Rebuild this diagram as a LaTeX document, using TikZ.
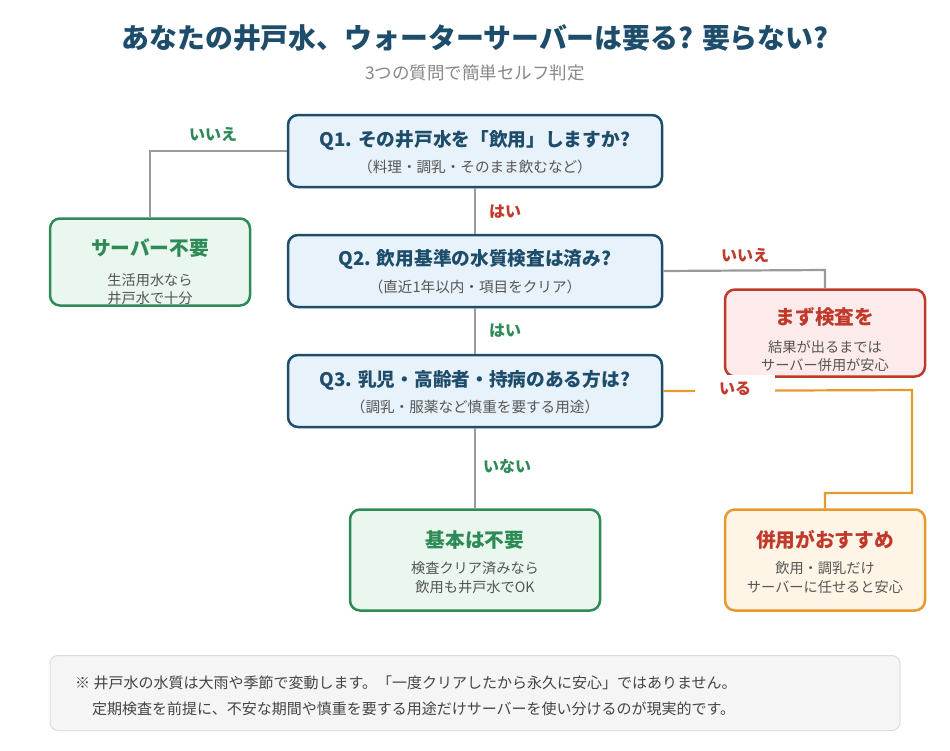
\documentclass[tikz,border=0pt]{standalone}
\usepackage{fontspec}
\setmainfont{Noto Sans CJK JP}
\definecolor{tblue}{HTML}{1E4D6B}
\definecolor{qfill}{HTML}{E8F2FA}
\definecolor{subgrey}{HTML}{555555}
\definecolor{lgrey}{HTML}{888888}
\definecolor{cgreen}{HTML}{2E8B57}
\definecolor{gfill}{HTML}{EAF7EE}
\definecolor{cred}{HTML}{C0392B}
\definecolor{rfill}{HTML}{FDEAEA}
\definecolor{corange}{HTML}{E69A2E}
\definecolor{ofill}{HTML}{FEF5E7}
\definecolor{conn}{HTML}{9A9A9A}
\definecolor{notefill}{HTML}{F5F5F5}
\definecolor{noteline}{HTML}{DDDDDD}
\definecolor{notetext}{HTML}{444444}
\tikzset{
  qbox/.style={draw=tblue, fill=qfill, line width=2.5pt, rounded corners=10pt,
    minimum width=374pt, minimum height=72pt, inner sep=0pt},
  obox/.style={line width=2.5pt, rounded corners=10pt,
    minimum width=200pt, minimum height=87pt, inner sep=0pt},
  qt/.style={font=\bfseries\fontsize{18.7}{22}\selectfont, text=tblue, inner sep=0pt},
  qs/.style={font=\fontsize{14.6}{17}\selectfont, text=subgrey, inner sep=0pt},
  ot/.style={font=\bfseries\fontsize{19.7}{23}\selectfont, inner sep=0pt},
  ob/.style={font=\fontsize{14.2}{17}\selectfont, text=subgrey, inner sep=0pt},
  conline/.style={draw=conn, line width=2.2pt},
  lbl/.style={font=\bfseries\fontsize{16}{19}\selectfont, inner sep=1pt},
  nt/.style={anchor=west, font=\fontsize{15}{18}\selectfont, text=notetext, inner sep=0pt},
}
\begin{document}
\begin{tikzpicture}[x=1pt,y=-1pt]
\useasboundingbox (0,0) rectangle (950,750);
\fill[white] (0,0) rectangle (950,750);
% title
\node[font=\bfseries\fontsize{27.9}{33}\selectfont, text=tblue] (title) at (475,38) {あなたの井戸水、ウォーターサーバーは要る? 要らない?};
\node[font=\fontsize{17.5}{20}\selectfont, text=lgrey] (subtitle) at (475,73) {3つの質問で簡単セルフ判定};
% question boxes
\node[qbox] (q1) at (475,151) {};
\node[qt] (q1t) at (475,140) {Q1. その井戸水を「飲用」しますか?};
\node[qs] (q1s) at (475,167) {（料理・調乳・そのまま飲むなど）};
\node[qbox] (q2) at (475,271) {};
\node[qt] (q2t) at (475,259) {Q2. 飲用基準の水質検査は済み?};
\node[qs] (q2s) at (475,287) {（直近1年以内・項目をクリア）};
\node[qbox] (q3) at (475,391) {};
\node[qt] (q3t) at (475,380) {Q3. 乳児・高齢者・持病のある方は?};
\node[qs] (q3s) at (475,407) {（調乳・服薬など慎重を要する用途）};
% outcome boxes
\node[obox, draw=cgreen, fill=gfill] (o1) at (150,262) {};
\node[ot, text=cgreen] (o1t) at (150,248) {サーバー不要};
\node[ob] (o1a) at (150,280) {生活用水なら};
\node[ob] (o1b) at (150,298) {井戸水で十分};
\node[obox, draw=cred, fill=rfill] (o2) at (825,333) {};
\node[ot, text=cred] (o2t) at (825,317) {まず検査を};
\node[ob] (o2a) at (825,347) {結果が出るまでは};
\node[ob] (o2b) at (825,365) {サーバー併用が安心};
\node[obox, draw=cgreen, fill=gfill, minimum width=250pt, minimum height=101pt] (o3) at (475,560) {};
\node[ot, text=cgreen] (o3t) at (475,540) {基本は不要};
\node[ob] (o3a) at (475,568) {検査クリア済みなら};
\node[ob] (o3b) at (475,587) {飲用も井戸水でOK};
\node[obox, draw=corange, fill=ofill, minimum height=101pt] (o4) at (825,560) {};
\node[ot, text=cred] (o4t) at (825,540) {併用がおすすめ};
\node[ob] (o4a) at (825,568) {飲用・調乳だけ};
\node[ob] (o4b) at (825,587) {サーバーに任せると安心};
% connectors
\coordinate (c1) at (150,151);
\draw[conline] (q1.west) -- (c1) -- (o1.north);
\draw[conline] (q1.south) -- (q2.north);
\coordinate (c2) at (825,270);
\draw[conline] (q2.east) -- (c2) -- (o2.north);
\draw[conline] (q2.south) -- (q3.north);
\draw[conline] (q3.south) -- (o3.north);
\coordinate (c3) at (912,390);
\coordinate (c4) at (912,493);
\coordinate (c5) at (825,493);
\draw[draw=corange, line width=2.2pt] (q3.east) -- (c3) -- (c4) -- (c5) -- (o4.north);
% labels
\node[lbl, text=cgreen] (l1) at (213,134) {いいえ};
\node[lbl, text=cred] (l2) at (505,212) {はい};
\node[lbl, text=cred] (l3) at (745,255) {いいえ};
\node[lbl, text=cgreen] (l4) at (505,331) {はい};
\node[lbl, text=cgreen] (l5) at (507,466) {いない};
\node[lbl, text=cred, fill=white, minimum width=80pt, minimum height=27pt] (l6) at (735,388.5) {いる};
% note
\node[draw=noteline, fill=notefill, line width=1pt, rounded corners=8pt, minimum width=850pt, minimum height=75pt] (note) at (475,693) {};
\node[nt] (n1) at (75,683) {※ 井戸水の水質は大雨や季節で変動します。「一度クリアしたから永久に安心」ではありません。};
\node[nt] (n2) at (92,709) {定期検査を前提に、不安な期間や慎重を要する用途だけサーバーを使い分けるのが現実的です。};
\end{tikzpicture}
\end{document}
